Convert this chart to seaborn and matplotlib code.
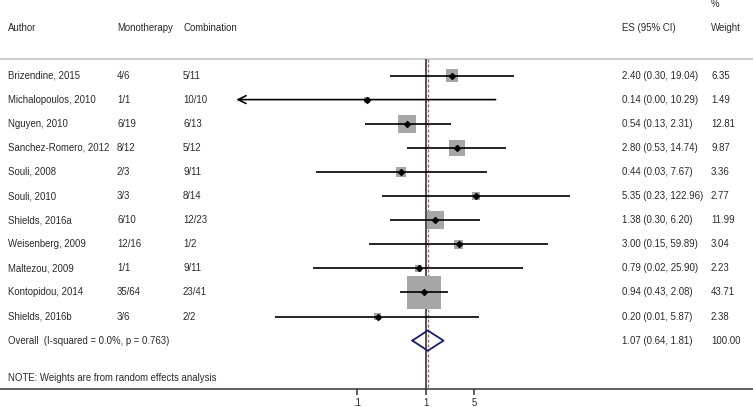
import numpy as np
import matplotlib
matplotlib.use("Agg")
import matplotlib.pyplot as plt
import matplotlib.transforms as mtransforms
import seaborn as sns

# ---------------------------
# Data
# ---------------------------
authors = ["Brizendine, 2015", "Michalopoulos, 2010", "Nguyen, 2010",
           "Sanchez-Romero, 2012", "Souli, 2008", "Souli, 2010",
           "Shields, 2016a", "Weisenberg, 2009", "Maltezou, 2009",
           "Kontopidou, 2014", "Shields, 2016b"]
mono = ["4/6", "1/1", "6/19", "8/12", "2/3", "3/3", "6/10", "12/16", "1/1", "35/64", "3/6"]
combo = ["5/11", "10/10", "6/13", "5/12", "9/11", "8/14", "12/23", "1/2", "9/11", "23/41", "2/2"]
es = [2.40, 0.14, 0.54, 2.80, 0.44, 5.35, 1.38, 3.00, 0.79, 0.94, 0.20]
ci_lo = [0.30, 0.0004, 0.13, 0.53, 0.026, 0.23, 0.30, 0.15, 0.023, 0.43, 0.0066]
ci_hi = [19.04, 10.29, 2.31, 14.74, 7.67, 122.96, 6.20, 59.89, 25.90, 2.08, 5.87]
weight = [6.35, 1.49, 12.81, 9.87, 3.36, 2.77, 11.99, 3.04, 2.23, 43.71, 2.38]

overall_es, overall_lo, overall_hi = 1.07, 0.64, 1.81
overall_label = "Overall  (I-squared = 0.0%, p = 0.763)"
note = "NOTE: Weights are from random effects analysis"
xticks = [0.1, 1, 5]
xticklabels = [".1", "1", "5"]
arrow_min = 0.0018  # CI lower bounds below this are drawn as arrows

# ---------------------------
# Style
# ---------------------------
sns.set_style("white")
plt.rcParams["font.family"] = ["Liberation Sans", "DejaVu Sans"]
fs = 6.9
txt_col = "#2a2a2a"

fig = plt.figure(figsize=(7.53, 4.07), dpi=100)
ax = fig.add_axes([0, 0, 1, 1])
ax.set_xscale("log")
ax.set_xlim(10 ** -6.17, 10 ** 4.743)
ax.set_ylim(13.755, -3.133)

rows = np.arange(len(authors))
overall_row = len(authors)
header_row = -1.98
line_row = -0.705
axis_row = 13

# text columns: x in axes fraction, y in data
tr = mtransforms.blended_transform_factory(ax.transAxes, ax.transData)
col_author, col_mono, col_combo, col_es, col_w = 8 / 753, 117 / 753, 183 / 753, 622 / 753, 711 / 753

def put(x, y, s):
    ax.text(x, y, s, transform=tr, fontsize=fs, color=txt_col, va="center", ha="left")

put(col_author, header_row, "Author")
put(col_mono, header_row, "Monotherapy")
put(col_combo, header_row, "Combination")
put(col_es, header_row, "ES (95% CI)")
put(col_w, header_row, "Weight")
put(col_w, -2.96, "%")

for i in rows:
    put(col_author, i, authors[i])
    put(col_mono, i, mono[i])
    put(col_combo, i, combo[i])
    put(col_es, i, f"{es[i]:.2f} ({ci_lo[i]:.2f}, {ci_hi[i]:.2f})")
    put(col_w, i, f"{weight[i]:.2f}")

put(col_author, overall_row, overall_label)
put(col_es, overall_row, f"{overall_es:.2f} ({overall_lo:.2f}, {overall_hi:.2f})")
put(col_w, overall_row, f"{sum(weight):.2f}")
put(col_author, 12.54, note)

# header separator
ax.axhline(line_row, color="#c8c8c8", lw=1.2, zorder=1)

# null line and overall effect line
ax.vlines(1, line_row, axis_row, color="#333333", lw=1.2, zorder=2)
ax.vlines(overall_es, line_row, axis_row, color="#b06868", lw=1.0,
          linestyles=(0, (2.2, 1.4)), zorder=2)

# weight squares (area proportional to weight)
sns.scatterplot(x=es, y=rows, size=weight, sizes=(0, 582), size_norm=(0, 43.71),
                marker="s", color="#a6a6a6", linewidth=0, legend=False, ax=ax, zorder=3)

# confidence intervals
for i in rows:
    if ci_lo[i] < arrow_min:
        ax.annotate("", xy=(arrow_min, i), xytext=(ci_hi[i], i),
                    arrowprops=dict(arrowstyle="->", lw=1.2, color="black",
                                    mutation_scale=14, shrinkA=0, shrinkB=0),
                    zorder=4)
    else:
        ax.hlines(i, ci_lo[i], ci_hi[i], color="black", lw=1.2, zorder=4)

# point estimates
ax.scatter(es, rows, marker="D", s=9, color="black", zorder=5)

# overall diamond
dx = [overall_lo, overall_es, overall_hi, overall_es, overall_lo]
dy = [overall_row, overall_row - 0.42, overall_row, overall_row + 0.42, overall_row]
ax.plot(dx, dy, color="#1c1c6c", lw=1.3, zorder=5)

# x axis
for side in ["top", "left", "right"]:
    ax.spines[side].set_visible(False)
ax.spines["bottom"].set_position(("data", axis_row))
ax.spines["bottom"].set_color("#333333")
ax.spines["bottom"].set_linewidth(1.1)
ax.set_xticks(xticks)
ax.set_xticklabels(xticklabels)
ax.xaxis.set_minor_locator(matplotlib.ticker.NullLocator())
ax.tick_params(axis="x", direction="out", length=4.5, width=1.1, color="#333333",
               labelsize=fs, labelcolor=txt_col, pad=2, bottom=True)
ax.set_yticks([])

fig.savefig("out.png", dpi=100)
